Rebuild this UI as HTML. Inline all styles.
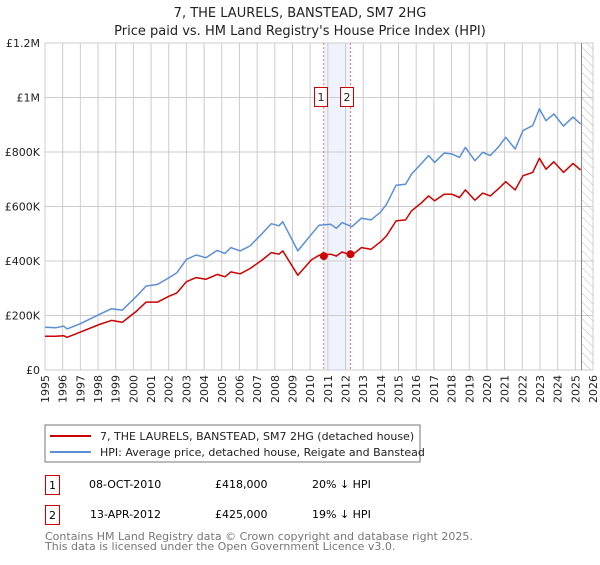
<!DOCTYPE html>
<html><head><meta charset="utf-8"><style>
body{margin:0;background:#fff;font-family:"Liberation Sans","DejaVu Sans",sans-serif;}
svg text{font-family:"DejaVu Sans","Liberation Sans",sans-serif;}
</style></head><body>
<svg id="c" width="600" height="560" viewBox="0 0 600 560" xmlns="http://www.w3.org/2000/svg">
<defs><pattern id="hatch" width="6" height="6" patternUnits="userSpaceOnUse" patternTransform="rotate(-45)"><line x1="0" y1="0" x2="0" y2="6" stroke="#bbb" stroke-width="1"/></pattern></defs>
<text x="300" y="17" text-anchor="middle" font-size="13" fill="#222">7, THE LAURELS, BANSTEAD, SM7 2HG</text>
<text x="300" y="35" text-anchor="middle" font-size="13" fill="#222">Price paid vs. HM Land Registry's House Price Index (HPI)</text>
<g id="grid"></g><g id="marks"></g><g id="axes"></g>
<rect x="45" y="425" width="375" height="37" fill="#fff" stroke="#777"/>
<line x1="50" y1="436" x2="91" y2="436" stroke="#cc0000" stroke-width="2"/>
<text x="100" y="440" font-size="11" fill="#222">7, THE LAURELS, BANSTEAD, SM7 2HG (detached house)</text>
<line x1="50" y1="452" x2="91" y2="452" stroke="#5b8fd4" stroke-width="2"/>
<text x="100" y="456" font-size="11" fill="#222">HPI: Average price, detached house, Reigate and Banstead</text>
<g>
<rect x="45.5" y="475.5" width="14" height="19" fill="#fff" stroke="#cc0000"/><text x="52.5" y="489" text-anchor="middle" font-size="11">1</text>
<text x="89" y="488" font-size="11">08-OCT-2010</text><text x="215" y="488" font-size="11">£418,000</text><text x="312" y="488" font-size="11">20% ↓ HPI</text></g>
<g>
<rect x="45.5" y="505.5" width="14" height="19" fill="#fff" stroke="#cc0000"/><text x="52.5" y="519" text-anchor="middle" font-size="11">2</text>
<text x="90" y="518" font-size="11">13-APR-2012</text><text x="215" y="518" font-size="11">£425,000</text><text x="312" y="518" font-size="11">19% ↓ HPI</text></g>
<text x="45" y="540" font-size="11" fill="#777">Contains HM Land Registry data © Crown copyright and database right 2025.</text>
<text x="45" y="550" font-size="11" fill="#777">This data is licensed under the Open Government Licence v3.0.</text>
</svg>
<script>
const years=[1995,1996,1997,1998,1999,2000,2001,2002,2003,2004,2005,2006,2007,2008,2009,2010,2011,2012,2013,2014,2015,2016,2017,2018,2019,2020,2021,2022,2023,2024,2025,2026];
const yTicks=[0,200000,400000,600000,800000,1000000,1200000];
const yLabels=["£0","£200K","£400K","£600K","£800K","£1M","£1.2M"];
const hpiT=[1995.0,1995.6,1996.05,1996.25,1997.0,1998.07,1998.76,1999.37,2000.18,2000.72,2001.37,2002.02,2002.46,2003.0,2003.55,2004.1,2004.74,2005.18,2005.51,2006.04,2006.59,2007.25,2007.8,2008.23,2008.45,2009.3,2010.07,2010.5,2011.16,2011.48,2011.8,2012.36,2012.9,2013.44,2013.99,2014.32,2014.86,2015.4,2015.73,2016.27,2016.7,2017.04,2017.58,2018.02,2018.45,2018.78,2019.32,2019.76,2020.19,2020.63,2021.06,2021.6,2022.04,2022.59,2022.97,2023.34,2023.78,2024.33,2024.87,2025.3];
const hpiV=[157,155,161,151,170,204,225,220,271,308,314,339,357,406,422,412,439,428,449,437,455,498,537,529,544,437,498,531,535,520,541,526,557,551,580,608,678,682,719,756,787,762,796,793,780,817,768,799,787,817,854,811,879,897,958,915,940,895,928,903];
const priceV=[124,124,126,120,139,167,182,175,216,249,249,271,283,324,339,333,351,342,360,353,372,402,431,425,437,348,404,421,425,418,433,421,449,443,471,492,547,551,584,612,639,621,645,645,633,661,623,649,639,664,691,661,713,725,777,737,764,725,758,734];
const saleT=[2010.77,2012.28];
const saleV=[418000,425000];
const NS="http://www.w3.org/2000/svg";
const X0=45,X1=593,Y0=370,Y1=43;
const xs=t=>X0+(t-1995)/(2026-1995)*(X1-X0);
const ys=v=>Y0-v/1200000*(Y0-Y1);
function mk(tag,at,parent){const e=document.createElementNS(NS,tag);for(const k in at)e.setAttribute(k,at[k]);parent.appendChild(e);return e;}
const grid=document.getElementById('grid'),marks=document.getElementById('marks'),axes=document.getElementById('axes');
let band=mk('rect',{x:xs(saleT[0]),y:Y1,width:xs(saleT[1])-xs(saleT[0]),height:Y0-Y1,fill:'#eef3fc'},grid);


years.forEach(y=>{const l=mk('line',{x1:xs(y),x2:xs(y),y1:Y1,y2:Y0,stroke:'#ccc','stroke-width':1},grid);


const t=mk('text',{x:0,y:0,'font-size':11,fill:'#222','text-anchor':'end',transform:`translate(${xs(y)+4},${Y0+5}) rotate(-90)`},axes);t.textContent=y;

});
yTicks.forEach((v,i)=>{const l=mk('line',{x1:X0,x2:X1,y1:ys(v),y2:ys(v),stroke:'#ccc','stroke-width':1},grid);


const t=mk('text',{x:40,y:ys(v)+4,'font-size':11,fill:'#222','text-anchor':'end'},axes);t.textContent=yLabels[i];

});
const hx=xs(2025.35);
let h=mk('rect',{x:hx,y:Y1,width:X1-hx,height:Y0-Y1,fill:'url(#hatch)'},grid);


let hl=mk('line',{x1:hx,x2:hx,y1:Y1,y2:Y0,stroke:'#888'},grid);


saleT.forEach((t,i)=>{const l=mk('line',{x1:xs(t),x2:xs(t),y1:Y1,y2:Y0,stroke:'#e55','stroke-width':0.8,'stroke-dasharray':'2,2'},grid);


const g=mk('g',{},marks);


mk('rect',{x:Math.round(xs(t))-9.5,y:87.5,width:13,height:19,fill:'#fff',stroke:'#cc0000'},g);
const tx=mk('text',{x:Math.round(xs(t))-3,y:101,'font-size':11,'text-anchor':'middle',fill:'#222'},g);tx.textContent=i+1;});
function line(T,V,col,name){const d=T.map((t,i)=>(i?'L':'M')+xs(t).toFixed(1)+','+ys(V[i]*1000).toFixed(1)).join('');
const p=mk('path',{d:d,fill:'none',stroke:col,'stroke-width':1.5,'stroke-linejoin':'round'},marks);

}
line(hpiT,hpiV,'#5b8fd4','hpi-line');
line(hpiT,priceV,'#cc0000','property-price-line');
saleT.forEach((t,i)=>{const c=mk('circle',{cx:xs(t),cy:ys(saleV[i]),r:4,fill:'#cc0000'},marks);

});
</script>
</body></html>
